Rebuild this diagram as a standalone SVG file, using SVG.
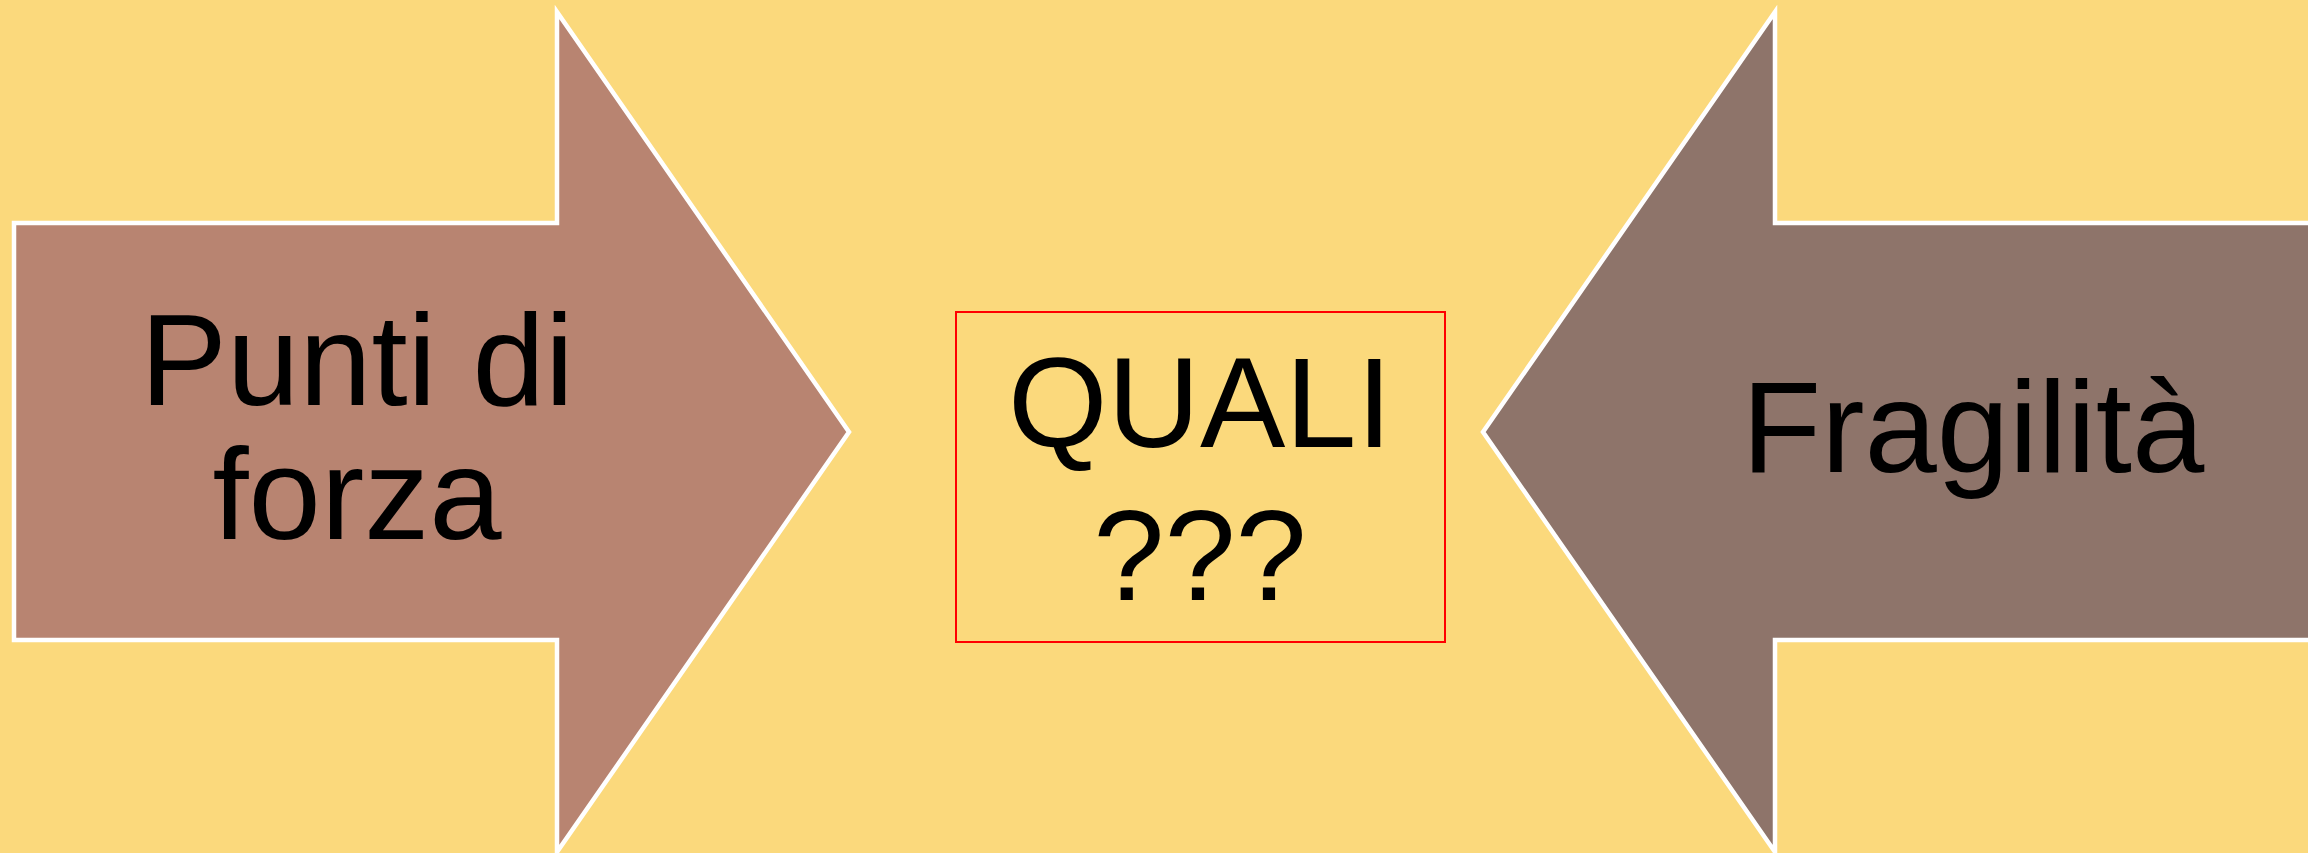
<svg xmlns="http://www.w3.org/2000/svg" width="2308" height="853" viewBox="0 0 2308 853">
<style>
.arrow{stroke:#FFFFFF;stroke-width:4.5;stroke-linejoin:miter}
.lbl{font-family:"Liberation Sans",Arial,sans-serif;fill:#000000;text-anchor:middle}
</style>
<rect x="0" y="0" width="2308" height="853" fill="#FBD97C"/>
<g id="strengths">
<polygon class="arrow" fill="#B88471" points="14,223 557,223 557,12 849,432 557,852 557,640 14,640"/>
<text class="lbl" x="357" y="405" font-size="130">Punti di</text>
<text class="lbl" x="357" y="539" font-size="130">forza</text>
</g>
<g id="weaknesses">
<polygon class="arrow" fill="#8E746A" points="2330,223 1775,223 1775,12 1483,432 1775,852 1775,640 2330,640"/>
<text class="lbl" x="1973" y="472" font-size="130">Fragilità</text>
</g>
<g id="question">
<rect x="956" y="312" width="489" height="330" fill="none" stroke="#FF0000" stroke-width="2"/>
<text class="lbl" x="1200" y="447" font-size="128">QUALI</text>
<text class="lbl" x="1200" y="600" font-size="128">???</text>
</g>
<g id="connectors"></g>
</svg>
